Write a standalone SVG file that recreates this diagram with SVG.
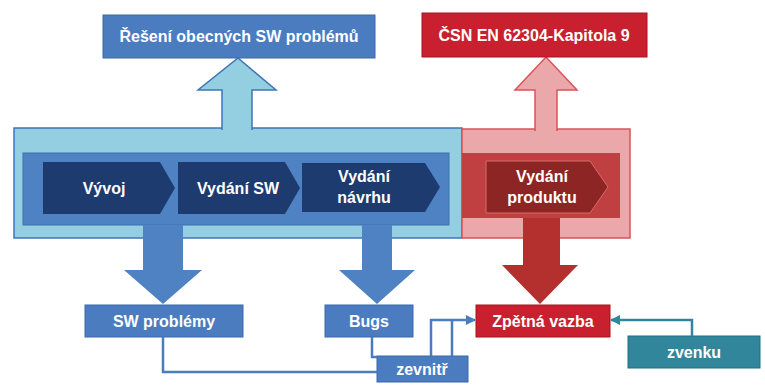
<svg xmlns="http://www.w3.org/2000/svg" width="765" height="385" viewBox="0 0 765 385">
  <defs>
    <style>
      .lbl { font-family: "Liberation Sans", Arial, sans-serif; font-weight: bold; font-size: 16px; fill: #ffffff; text-anchor: middle; }
      .box-blue { fill: #4a7cbf; stroke: #3a68a8; stroke-width: 1; }
      .box-red { fill: #c8202f; stroke: #a8121f; stroke-width: 1; }
      .box-teal { fill: #31869c; stroke: #236f84; stroke-width: 1; }
      .chev-blue { fill: #1d3b6e; }
      .chev-red { fill: #8e2525; stroke: #d96a68; stroke-width: 1; }
      .wire-blue { fill: none; stroke: #4a7cbf; stroke-width: 2.5; }
      .wire-teal { fill: none; stroke: #31869c; stroke-width: 2.5; }
    </style>
    <marker id="ahBlue" viewBox="0 0 10 10" refX="9" refY="5" markerWidth="4" markerHeight="4" orient="auto">
      <path d="M0,0 L10,5 L0,10 Z" fill="#4a7cbf"/>
    </marker>
    <marker id="ahTeal" viewBox="0 0 10 10" refX="9" refY="5" markerWidth="4" markerHeight="4" orient="auto">
      <path d="M0,0 L10,5 L0,10 Z" fill="#31869c"/>
    </marker>
  </defs>

  <rect width="765" height="385" fill="#ffffff"/>

  <!-- process frames -->
  <g id="frame-sw">
    <rect x="14" y="128" width="448" height="110" fill="#93cfe0" stroke="#3f74b6" stroke-width="1.5"/>
    <rect x="23" y="153" width="426" height="72" fill="#4f82c2" stroke="#3f70b0" stroke-width="1"/>
  </g>
  <g id="frame-product">
    <rect x="462" y="129" width="168" height="109" fill="#eaa8aa" stroke="#d9535a" stroke-width="1.5"/>
    <rect x="462" y="153" width="158" height="65" fill="#c04042"/>
  </g>

  <!-- block arrows -->
  <g id="arrows">
    <path d="M222,130 L222,90 L198,90 L238,58 L276,90 L252,90 L252,130" fill="#93cfe0" stroke="#3f74b6" stroke-width="1.5"/>
    <path d="M535,131 L535,90 L515,90 L546,57 L577,90 L557,90 L557,131" fill="#eaa8aa" stroke="#d9535a" stroke-width="1.5"/>
    <polygon points="143,225 183,225 183,270 202,270 163,304 124,270 143,270" fill="#4f82c2"/>
    <polygon points="362,225 392,225 392,270 415,270 377,304 339,270 362,270" fill="#4f82c2"/>
    <polygon points="523,218 560,218 560,265 578,265 540,304 502,265 523,265" fill="#b3302f"/>
  </g>

  <!-- stages -->
  <g id="stage-vyvoj">
    <path class="chev-blue" d="M43,162 L160,162 L175,188 L160,214 L43,214 Z"/>
    <text class="lbl" x="104" y="194">Vývoj</text>
  </g>
  <g id="stage-vydani-sw">
    <path class="chev-blue" d="M178,162 L285,162 L300,188 L285,214 L178,214 Z"/>
    <text class="lbl" x="238" y="194">Vydání SW</text>
  </g>
  <g id="stage-vydani-navrhu">
    <path class="chev-blue" d="M302,163 L425,163 L440,187 L425,212 L302,212 Z"/>
    <text class="lbl" x="364" y="182">Vydání</text>
    <text class="lbl" x="364" y="203">návrhu</text>
  </g>
  <g id="stage-vydani-produktu">
    <path class="chev-red" d="M486,161 L590,161 L608,187 L590,213 L486,213 Z"/>
    <text class="lbl" x="542" y="182">Vydání</text>
    <text class="lbl" x="542" y="203">produktu</text>
  </g>

  <!-- outcome boxes -->
  <g id="reseni">
    <rect class="box-blue" x="103" y="15" width="272" height="43"/>
    <text class="lbl" x="239" y="42">Řešení obecných SW problémů</text>
  </g>
  <g id="csn">
    <rect class="box-red" x="422" y="13" width="225" height="44"/>
    <text class="lbl" x="534" y="41">ČSN EN 62304-Kapitola 9</text>
  </g>
  <g id="sw-problemy">
    <rect class="box-blue" x="85" y="305" width="158" height="32"/>
    <text class="lbl" x="164" y="327">SW problémy</text>
  </g>
  <g id="bugs">
    <rect class="box-blue" x="325" y="305" width="88" height="32"/>
    <text class="lbl" x="369" y="327">Bugs</text>
  </g>
  <g id="zpetna-vazba">
    <rect class="box-red" x="476" y="305" width="134" height="32"/>
    <text class="lbl" x="543" y="327">Zpětná vazba</text>
  </g>
  <g id="zevnitr">
    <rect class="box-blue" x="377" y="356" width="91" height="26"/>
    <text class="lbl" x="422" y="375">zevnitř</text>
  </g>
  <g id="zvenku">
    <rect class="box-teal" x="628" y="336" width="132" height="32"/>
    <text class="lbl" x="694" y="358">zvenku</text>
  </g>

  <!-- connectors -->
  <g id="connectors">
    <path class="wire-blue" d="M163,337 L163,372 L377,372"/>
    <path class="wire-blue" d="M372,337 L372,357 L377,357"/>
    <path class="wire-blue" d="M431,356 L431,320 L475,320" marker-end="url(#ahBlue)"/>
    <path class="wire-blue" d="M452,356 L452,320"/>
    <path class="wire-teal" d="M692,336 L692,320 L611,320" marker-end="url(#ahTeal)"/>
  </g>
</svg>
